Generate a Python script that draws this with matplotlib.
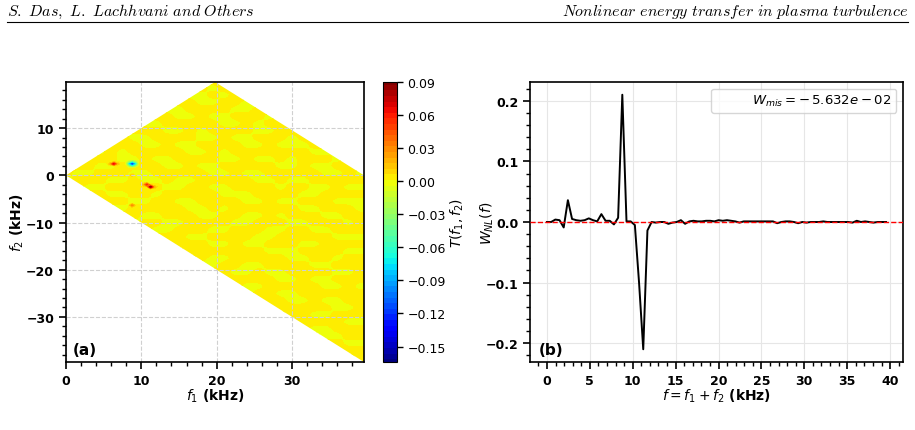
import numpy as np
import matplotlib
matplotlib.use("Agg")
import matplotlib.pyplot as plt
from matplotlib.patches import Polygon
from matplotlib.lines import Line2D
from matplotlib.ticker import MultipleLocator

# ---------------- data ----------------
df = 0.488  # kHz frequency resolution
f_max = 39.55

# panel (a): localized transfer peaks (f1, f2, T)
peak_f1 = [6.35, 5.86, 6.84,
           8.79, 8.30, 9.28, 8.79, 8.79, 8.30, 9.28, 8.30, 9.28,
           11.23, 10.74, 11.72, 10.25,
           8.79, 8.79]
peak_f2 = [2.44, 2.44, 2.44,
           2.44, 2.44, 2.44, 2.93, 1.95, 2.93, 2.93, 1.95, 1.95,
           -2.44, -1.95, -2.44, -1.95,
           -6.35, 0.0]
peak_val = [0.065, 0.015, 0.015,
            -0.160, -0.090, -0.090, -0.070, -0.070, -0.030, -0.030, -0.030, -0.030,
            0.088, 0.055, 0.018, 0.012,
            0.030, 0.012]

# panel (a): background texture (1 = slightly lower value), read by eye
texture_step = 1.5
texture_pattern = [
    "010011000101100100011010010",
    "110001001100010011000110001",
    "001100110001101000110001100",
    "100110001000110011000100110",
    "011000110110000110011001000",
    "000111000011011000100110011",
    "110000011000001101001100010",
    "011011000110100001100011001",
    "000110110000110110001000110",
    "101000011011000011011100001",
    "001101000001101000000011011",
    "110001101100001101101000100",
    "000110000110110000011011000",
    "011000110000011011000001101",
    "100011011011000001101100000",
    "001100000110011000010011011",
    "110011001000001110000110000",
    "000000110011000011011000111",
    "011011000001101000000110001",
    "001100011000110011010001100",
    "100001100110000110001100010",
    "011000001100011000110011000",
    "000110110001100001100000111",
    "110000011000011011000110000",
    "001101000110000000111000011",
    "100011000011011000001100100",
    "011000110000110011000011000",
    "000110011000000110110000110",
    "110000001101100000011011000",
    "001011000000110011000001101",
    "100000110011000110011000000",
    "011100011000011000001101100",
    "000011000110000011000000110",
    "110000110001101100110011000",
    "001101001100000001100000011",
    "100001100011011000011011000",
    "011000011000000110000001100",
    "000110000110110001101100011",
    "110011011000001100000011000",
    "001000110011000011011000110",
]
tex_high = 0.0040
tex_low = -0.0020

# colour scale
cbar_min, cbar_max = -0.164, 0.09
cbar_ticks = [0.09, 0.06, 0.03, 0.00, -0.03, -0.06, -0.09, -0.12, -0.15]
n_bands = 50

# panel (b): W_NL(f)
W_NL = [0.000, 0.000, 0.004, 0.003, -0.009, 0.036, 0.005, 0.003, 0.002, 0.003,
        0.006, 0.003, 0.001, 0.013, 0.002, 0.002, -0.004, 0.007, 0.210, 0.001,
        0.001, -0.005, -0.100, -0.210, -0.014, 0.000, -0.001, 0.000, 0.000, -0.003,
        -0.001, 0.000, 0.003, -0.003, 0.001, 0.002, 0.001, 0.001, 0.002, 0.002,
        0.001, 0.003, 0.002, 0.003, 0.002, 0.001, -0.001, 0.001, 0.001, 0.001,
        0.001, 0.001, 0.001, 0.001, 0.001, -0.002, 0.000, 0.001, 0.001, 0.000,
        -0.002, 0.000, -0.001, 0.000, 0.000, 0.000, 0.001, 0.000, 0.000, 0.000,
        0.000, 0.000, 0.000, -0.001, 0.002, 0.000, 0.001, 0.000, -0.001, 0.000,
        0.000, 0.000]
W_mis_label = r"$W_{mis} = -\,5.632e-02$"

header_left = r"$\mathit{S.\ Das,\ L.\ Lachhvani\ and\ Others}$"
header_right = r"$\mathit{Nonlinear\ energy\ transfer\ in\ plasma\ turbulence}$"

# ---------------- build grid for panel (a) ----------------
n1 = int(round(f_max / df))
k1 = np.arange(0, n1 + 1)
k2 = np.arange(-n1, int(np.ceil(20 / df)) + 1)
f1 = k1 * df
f2 = k2 * df

ncol = len(texture_pattern[0])
tex = np.array([[float(c) for c in r[:ncol].ljust(ncol, "0")] for r in texture_pattern])
cf1 = np.arange(ncol) * texture_step
cf2 = 20.0 - np.arange(len(texture_pattern)) * texture_step
A = np.array([np.interp(f1, cf1, row) for row in tex])
A_inc = A[::-1]
G = np.array([np.interp(f2, cf2[::-1], A_inc[:, j]) for j in range(len(f1))]).T
T = tex_high - (tex_high - tex_low) * G
for a, b, v in zip(peak_f1, peak_f2, peak_val):
    j = int(round(a / df))
    i = int(round(b / df)) - k2[0]
    T[i, j] = v

f_sum = np.arange(len(W_NL)) * df

# ---------------- figure ----------------
W, H = 915, 431
fig = plt.figure(figsize=(W / 100, H / 100), dpi=100)

def fr(x0, y0, x1, y1):
    return [x0 / W, 1 - y1 / H, (x1 - x0) / W, (y1 - y0) / H]

tick_fs = 9
label_fs = 10

# ---- panel (a)
ax1 = fig.add_axes(fr(66, 83, 364, 363))
step = (cbar_max - cbar_min) / n_bands
levels = cbar_min - 0.5 * step + step * np.arange(n_bands + 2)
cs = ax1.contourf(f1, f2, T, levels=levels, cmap="jet", vmin=cbar_min, vmax=cbar_max)
top = f_max / 2
poly = Polygon([(0, 0), (top, top), (f_max, 0), (f_max, -f_max)],
               closed=True, transform=ax1.transData, facecolor="none", edgecolor="none")
ax1.add_patch(poly)
cs.set_clip_path(poly)
ax1.set_xlim(0, f_max)
ax1.set_ylim(-f_max, top)
ax1.xaxis.set_major_locator(MultipleLocator(10))
ax1.xaxis.set_minor_locator(MultipleLocator(2))
ax1.yaxis.set_major_locator(MultipleLocator(10))
ax1.yaxis.set_minor_locator(MultipleLocator(2))
ax1.grid(True, which="major", color="#d0d0d0", ls="--", lw=0.8)
ax1.set_xlabel(r"$f_1$ (kHz)", fontsize=label_fs, fontweight="bold", labelpad=0)
ax1.set_ylabel(r"$f_2$ (kHz)", fontsize=label_fs, fontweight="bold")
ax1.yaxis.set_label_coords((26 - 66) / 298, 0.5)
ax1.text(0.022, 0.045, "(a)", transform=ax1.transAxes, fontsize=11,
         fontweight="bold", va="center", ha="left")

cax = fig.add_axes(fr(383, 83, 397, 363))
cb = fig.colorbar(cs, cax=cax, ticks=cbar_ticks)
cb.ax.set_ylim(cbar_min, cbar_max)
cb.ax.tick_params(labelsize=tick_fs, length=4, width=1)
cb.set_label(r"$T(f_1, f_2)$", fontsize=label_fs, labelpad=2)
cb.outline.set_linewidth(0.8)

# ---- panel (b)
ax2 = fig.add_axes(fr(530, 83, 903, 363))
ax2.plot(f_sum, W_NL, color="black", lw=1.4, zorder=3)
ax2.axhline(0, color="red", ls="--", lw=1.0, zorder=4)
ax2.plot([], [], " ", label=W_mis_label)
ax2.legend(loc="upper right", fontsize=9.5, borderaxespad=0.5, borderpad=0.35)
ax2.xaxis.set_major_locator(MultipleLocator(5))
ax2.xaxis.set_minor_locator(MultipleLocator(1))
ax2.yaxis.set_major_locator(MultipleLocator(0.1))
ax2.yaxis.set_minor_locator(MultipleLocator(0.02))
ax2.grid(True, which="major", color="#e6e6e6", ls="-", lw=0.8)
ax2.set_axisbelow(True)
ax2.set_xlabel(r"$f = f_1 + f_2$ (kHz)", fontsize=label_fs, fontweight="bold", labelpad=0)
ax2.set_ylabel(r"$W_{NL}(f)$", fontsize=label_fs)
ax2.yaxis.set_label_coords((496 - 530) / 373, 0.5)
ax2.text(0.024, 0.045, "(b)", transform=ax2.transAxes, fontsize=11,
         fontweight="bold", va="center", ha="left")

for ax in (ax1, ax2):
    for s in ax.spines.values():
        s.set_linewidth(1.2)
    ax.tick_params(which="major", direction="out", length=5, width=1.2, labelsize=tick_fs)
    ax.tick_params(which="minor", direction="out", length=3, width=1.0)
    for lab in ax.get_xticklabels() + ax.get_yticklabels():
        lab.set_fontweight("bold")

# ---- page header
fig.text(7 / W, 1 - 12 / H, header_left, fontsize=11.5, math_fontfamily="cm",
         ha="left", va="center")
fig.text(908 / W, 1 - 12 / H, header_right, fontsize=11.5, math_fontfamily="cm",
         ha="right", va="center")
fig.add_artist(Line2D([7 / W, 908 / W], [1 - 22.5 / H] * 2, color="black", lw=0.8))

fig.savefig("out.png", dpi=100)
